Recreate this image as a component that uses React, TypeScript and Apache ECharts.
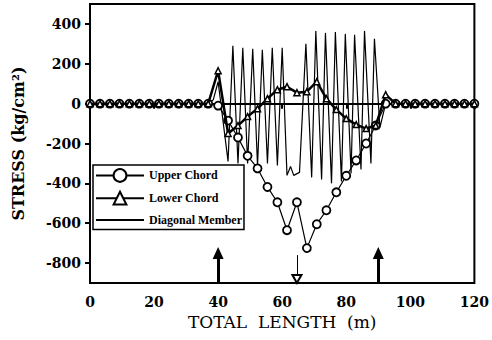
import React, { useEffect, useRef } from "react";
import * as echarts from "echarts";

// Panel node positions along the total length (m)
const nodeX = [0, 3.1, 6.2, 9.2, 12.3, 15.4, 18.5, 21.5, 24.6, 27.7, 30.8, 33.8, 36.9, 40, 43.1, 46.2, 49.2, 52.3, 55.4, 58.5, 61.5, 64.6, 67.7, 70.8, 73.8, 76.9, 80, 83.1, 86.2, 89.2, 92.3, 95.4, 98.5, 101.5, 104.6, 107.7, 110.8, 113.8, 116.9, 120];

// Upper chord stress (kg/cm2) at each node
const upperChord = [0, 0, 0, 0, 0, 0, 0, 0, 0, 0, 0, 0, 0, -10, -85, -170, -262, -325, -418, -495, -635, -495, -725, -605, -535, -445, -362, -285, -200, -110, 0, 0, 0, 0, 0, 0, 0, 0, 0, 0];

// Lower chord stress (kg/cm2) at each node
const lowerChord = [0, 0, 0, 0, 0, 0, 0, 0, 0, 0, 0, 0, 0, 165, -150, -110, -65, -25, 25, 70, 85, 55, 60, 110, 25, -30, -75, -105, -125, -110, 45, 0, 0, 0, 0, 0, 0, 0, 0, 0];

// Diagonal member stress (kg/cm2)
const diagX = [0, 36.9, 38.5, 40, 43.1, 44.6, 46.2, 47.7, 49.2, 50.8, 52.3, 53.8, 55.4, 56.9, 58.5, 60, 61.5, 62.6, 63.6, 65.4, 67.4, 69.2, 70.5, 72.3, 73.5, 75.4, 76.6, 78.5, 79.7, 81.5, 82.6, 84.6, 85.7, 87.7, 88.8, 90.5, 92.3, 120];
const diagonal = [0, 0, 20, 110, -290, 290, -300, 280, -300, 275, -310, 270, -300, 280, -310, 280, -360, -315, -360, -345, 300, -370, 365, -380, 355, -400, 360, -390, 350, -350, 345, -330, 365, -300, 325, -120, 0, 0];

const yTicks = [-800, -600, -400, -200, 0, 200, 400];
const supportX = [40, 90];
const loadX = [64.6];

const serifBold = "'Liberation Serif', 'Times New Roman', serif";
const numFont = "'DejaVu Serif', serif";

export default function App() {
  const ref = useRef<HTMLDivElement>(null);
  useEffect(() => {
    const chart = echarts.init(ref.current!, null, { renderer: "svg" });
    const thick = { color: "#000", width: 3, type: "solid" as const };
    const thin = { color: "#000", width: 1, type: "solid" as const };
    const option: any = {
      animation: false,
      backgroundColor: "#fff",
      grid: {
        left: 90,
        top: 4,
        width: 388,
        height: 279,
        show: true,
        borderColor: "#000",
        borderWidth: 2,
        backgroundColor: "transparent",
      },
      legend: {
        orient: "vertical",
        left: 93,
        top: 165,
        padding: [3, 2, 3, 2],
        itemWidth: 48,
        itemHeight: 16,
        itemGap: 8,
        backgroundColor: "#fff",
        borderColor: "#000",
        borderWidth: 1.5,
        z: 10,
        textStyle: { color: "#000", fontFamily: serifBold, fontWeight: "bold", fontSize: 12 },
        data: [
          { name: "Upper Chord" },
          { name: "Lower Chord" },
          { name: "Diagonal Member", itemStyle: { color: "rgba(0,0,0,0)", borderColor: "rgba(0,0,0,0)" } },
        ],
      },
      xAxis: {
        type: "value",
        min: 0,
        max: 120,
        interval: 20,
        axisLine: { show: true, lineStyle: { color: "#000", width: 2 } },
        axisTick: { show: true, length: 5, lineStyle: { color: "#000", width: 2 } },
        axisLabel: { color: "#000", fontFamily: numFont, fontWeight: "bold", fontSize: 14, margin: 12 },
        splitLine: { show: false },
        name: "TOTAL  LENGTH  (m)",
        nameLocation: "middle",
        nameGap: 26,
        nameTextStyle: { color: "#000", fontFamily: numFont, fontSize: 17 },
      },
      yAxis: {
        type: "value",
        min: -900,
        max: 500,
        axisLine: { show: true, lineStyle: { color: "#000", width: 2 } },
        axisTick: { show: true, length: 5, customValues: yTicks, lineStyle: { color: "#000", width: 2 } },
        axisLabel: { color: "#000", fontFamily: numFont, fontWeight: "bold", fontSize: 14, margin: 9, customValues: yTicks },
        splitLine: { show: false },
        name: "STRESS (kg/cm²)",
        nameLocation: "middle",
        nameGap: 64,
        nameTextStyle: { color: "#000", fontFamily: numFont, fontWeight: "bold", fontSize: 16 },
      },
      series: [
        {
          name: "Diagonal Member",
          type: "line",
          data: diagX.map((x, i) => [x, diagonal[i]]),
          symbol: "none",
          itemStyle: { color: "#000" },
          lineStyle: { color: "#000", width: 1.2 },
          z: 2,
          markLine: {
            silent: true,
            animation: false,
            label: { show: false },
            emphasis: { disabled: true },
            data: [
              ...supportX.map((x) => [
                { coord: [x, -900], symbol: "none", lineStyle: thick },
                { coord: [x, -750], symbol: "triangle", symbolSize: [11, 12], lineStyle: thick },
              ]),
              ...loadX.map((x) => [
                { coord: [x, -760], symbol: "none", lineStyle: thin },
                { coord: [x, -880], symbol: "emptyTriangle", symbolSize: [9, 8], lineStyle: thin },
              ]),
            ],
          },
        },
        {
          name: "Upper Chord",
          type: "line",
          data: nodeX.map((x, i) => [x, upperChord[i]]),
          symbol: "circle",
          symbolSize: 8,
          itemStyle: { color: "#fff", borderColor: "#000", borderWidth: 1.8 },
          lineStyle: { color: "#000", width: 1.2 },
          z: 3,
        },
        {
          name: "Lower Chord",
          type: "line",
          data: nodeX.map((x, i) => [x, lowerChord[i]]),
          symbol: "triangle",
          symbolSize: 6,
          itemStyle: { color: "#fff", borderColor: "#000", borderWidth: 1.5 },
          lineStyle: { color: "#000", width: 2.5 },
          z: 4,
        },
      ],
    };
    chart.setOption(option);
    return () => chart.dispose();
  }, []);
  return <div ref={ref} style={{ position: "absolute", left: 0, top: 0, width: 492, height: 340 }} />;
}
